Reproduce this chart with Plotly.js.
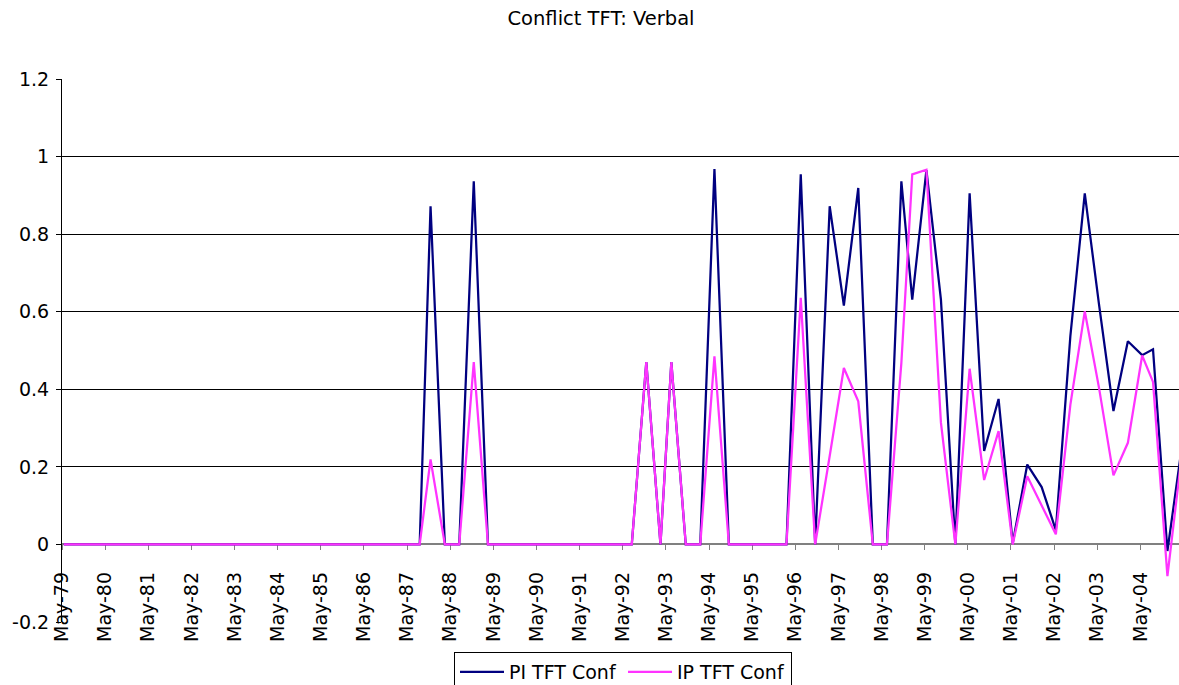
<!DOCTYPE html>
<html>
<head>
<meta charset="utf-8">
<script src="https://cdn.plot.ly/plotly-3.0.1.min.js"></script>
<style>
  html, body { margin: 0; padding: 0; background: #ffffff; }
  #chart { width: 1179px; height: 685px; }
</style>
</head>
<body>
<div id="chart"></div>
<script>
// Period dates (mid-month positions of each 4-month reporting period)
const periods = [
  '1979-05-16','1979-09-16','1980-01-16','1980-05-16','1980-09-16',
  '1981-01-16','1981-05-16','1981-09-16','1982-01-16','1982-05-16','1982-09-16',
  '1983-01-16','1983-05-16','1983-09-16','1984-01-16','1984-05-16','1984-09-16',
  '1985-01-16','1985-05-16','1985-09-16','1986-01-16','1986-05-16','1986-09-16',
  '1987-01-16','1987-05-16','1987-08-16','1987-11-16',
  '1988-03-16','1988-07-16','1988-11-16',
  '1989-03-16','1989-07-16','1989-11-16',
  '1990-03-16','1990-07-16','1990-11-16',
  '1991-03-16','1991-07-16','1991-11-16',
  '1992-03-16','1992-07-16','1992-11-16',
  '1993-03-16','1993-06-16','1993-10-16',
  '1994-02-16','1994-06-16','1994-10-16',
  '1995-02-16','1995-06-16','1995-10-16',
  '1996-02-16','1996-06-16','1996-10-16',
  '1997-02-16','1997-06-16','1997-10-16',
  '1998-02-16','1998-06-16','1998-10-16',
  '1999-01-16','1999-05-16','1999-09-16',
  '2000-01-16','2000-05-16','2000-09-16',
  '2001-01-16','2001-05-16','2001-09-16',
  '2002-01-16','2002-05-16','2002-09-16',
  '2003-01-16','2003-05-16','2003-09-16',
  '2004-01-16','2004-05-16','2004-08-16','2004-12-16',
  '2005-04-16'
];

// PI TFT Conf
const piTftConf = [
  0,0,0,0,0,
  0,0,0,0,0,0,
  0,0,0,0,0,0,
  0,0,0,0,0,0,
  0,0,0,0.872,
  0,0,0.936,
  0,0,0,
  0,0,0,
  0,0,0,
  0,0,0.47,
  0,0.47,0,
  0,0.968,0,
  0,0,0,
  0,0.954,0,
  0.872,0.616,0.919,
  0,0,0.936,
  0.631,0.965,0.631,
  0,0.905,0.241,
  0.375,0.003,0.206,
  0.148,0.037,0.537,
  0.905,0.62,0.344,
  0.524,0.488,0.503,-0.017,
  0.25
];

// IP TFT Conf
const ipTftConf = [
  0,0,0,0,0,
  0,0,0,0,0,0,
  0,0,0,0,0,0,
  0,0,0,0,0,0,
  0,0,0,0.219,
  0,0,0.47,
  0,0,0,
  0,0,0,
  0,0,0,
  0,0,0.47,
  0,0.47,0,
  0,0.485,0,
  0,0,0,
  0,0.636,0,
  0.228,0.455,0.369,
  0,0,0.468,
  0.954,0.966,0.314,
  0,0.453,0.166,
  0.292,0,0.176,
  0.101,0.026,0.36,
  0.601,0.405,0.178,
  0.262,0.487,0.419,-0.082,
  0.23
];

const seriesNames = ['PI TFT Conf', 'IP TFT Conf'];
const yTickVals = [-0.2, 0, 0.2, 0.4, 0.6, 0.8, 1, 1.2];
const yTickText = ['-0.2', '0', '0.2', '0.4', '0.6', '0.8', '1', '1.2'];

const FONT = '"DejaVu Sans", Verdana, sans-serif';

const traces = [
  {
    x: periods, y: piTftConf, name: seriesNames[0],
    type: 'scatter', mode: 'lines',
    line: { color: '#000080', width: 2.25 }
  },
  {
    x: periods, y: ipTftConf, name: seriesNames[1],
    type: 'scatter', mode: 'lines',
    line: { color: '#FF33FF', width: 2.25 }
  }
];

const layout = {
  width: 1179, height: 685,
  margin: { l: 62, r: 0, t: 79, b: 63, autoexpand: false },
  paper_bgcolor: '#ffffff', plot_bgcolor: '#ffffff',
  font: { family: FONT, size: 19, color: '#000000' },
  title: {
    text: 'Conflict TFT: Verbal',
    font: { family: FONT, size: 19.5, color: '#000000' },
    x: 601 / 1179, xref: 'container', xanchor: 'center',
    y: 1 - 18 / 685, yref: 'container', yanchor: 'middle'
  },
  xaxis: {
    type: 'date',
    range: ['1979-05-01', '2005-03-24'],
    tick0: '1979-05-01', dtick: 'M12', tickformat: '%b-%y',
    tickangle: -90,
    ticks: 'outside', ticklen: 5, tickcolor: '#808080', tickwidth: 1,
    ticklabelstandoff: 14,
    showline: true, linecolor: '#808080', linewidth: 2,
    showgrid: false, zeroline: false,
    anchor: 'free', position: 0.2 / 1.4,
    layer: 'below traces',
    tickfont: { family: FONT, size: 19, color: '#000000' },
    automargin: false
  },
  yaxis: {
    range: [-0.2, 1.2],
    tickmode: 'array', tickvals: yTickVals, ticktext: yTickText,
    showgrid: true, gridcolor: '#000000', gridwidth: 1,
    showline: true, linecolor: '#000000', linewidth: 1,
    ticks: 'outside', ticklen: 5, tickcolor: '#000000',
    ticklabelstandoff: 3,
    zeroline: false,
    tickfont: { family: FONT, size: 19, color: '#000000' },
    automargin: false
  },
  showlegend: true,
  legend: {
    orientation: 'h',
    x: (623 - 62) / 1117, xanchor: 'center',
    y: -(652 - 622) / 543, yanchor: 'top',
    itemwidth: 44,
    entrywidth: 109,
    bordercolor: '#000000', borderwidth: 1, bgcolor: '#ffffff',
    font: { family: FONT, size: 19, color: '#000000' }
  }
};

Plotly.newPlot('chart', traces, layout, { displayModeBar: false, staticPlot: true });
</script>
</body>
</html>
